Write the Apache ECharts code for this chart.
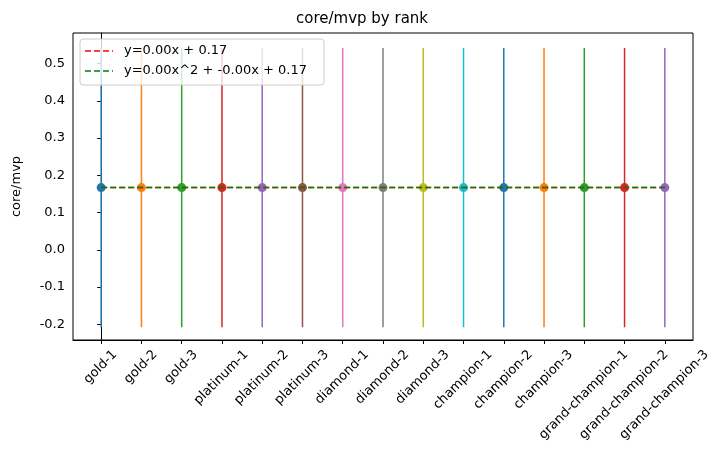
<!DOCTYPE html>
<html>
<head>
<meta charset="utf-8">
<script src="https://cdn.jsdelivr.net/npm/echarts@6/dist/echarts.min.js"></script>
</head>
<body style="margin:0">
<div id="chart" style="width:724px;height:460px"></div>
<script>
var ranks = ["gold-1", "gold-2", "gold-3", "platinum-1", "platinum-2", "platinum-3",
    "diamond-1", "diamond-2", "diamond-3", "champion-1", "champion-2", "champion-3",
    "grand-champion-1", "grand-champion-2", "grand-champion-3"];
var means = [0.167, 0.167, 0.167, 0.167, 0.167, 0.167, 0.167, 0.167, 0.167, 0.167, 0.167, 0.167, 0.167, 0.167, 0.167];
var errs = [0.375, 0.375, 0.375, 0.375, 0.375, 0.375, 0.375, 0.375, 0.375, 0.375, 0.375, 0.375, 0.375, 0.375, 0.375];
var yTicks = [-0.2, -0.1, 0.0, 0.1, 0.2, 0.3, 0.4, 0.5];
var linFit = [0.167, 0.167]; // at x=0 and x=14
var quadFit = [0.167, 0.167];
var fitNames = ['y=0.00x + 0.17', 'y=0.00x^2 + -0.00x + 0.17'];
var colors = ['#1f77b4', '#ff7f0e', '#2ca02c', '#d62728', '#9467bd', '#8c564b',
    '#e377c2', '#7f7f7f', '#bcbd22', '#17becf'];

var font = 'DejaVu Sans';
var fs = 13;
var grid = { left: 73, right: 31, top: 33, bottom: 120 };
var W = 724, H = 460;
var pts = ranks.map(function (r, i) { return [i, means[i], errs[i]]; });
var idx = ranks.map(function (r, i) { return i; });

var chart = echarts.init(document.getElementById('chart'));
var option = {
    animation: false,
    textStyle: { fontFamily: font },
    title: {
        text: 'core/mvp by rank', left: 'center', top: 7,
        textStyle: { fontFamily: font, fontSize: 15, fontWeight: 'normal', color: '#000' }
    },
    grid: grid,
    xAxis: {
        type: 'value', min: -0.7, max: 14.7,
        splitLine: { show: false },
        axisLine: { onZero: false, lineStyle: { color: '#000' } },
        axisTick: { show: true, customValues: idx, length: 4, lineStyle: { color: '#000' } },
        axisLabel: { show: false }
    },
    yAxis: {
        type: 'value', min: -0.2425, max: 0.5825,
        name: 'core/mvp', nameLocation: 'middle', nameGap: 50,
        nameTextStyle: { color: '#000', fontSize: fs, fontFamily: font },
        splitLine: { show: false },
        axisLine: { show: true, lineStyle: { color: '#000' } },
        axisTick: { show: true, customValues: yTicks, length: 4, lineStyle: { color: '#000' } },
        axisLabel: {
            customValues: yTicks, color: '#000', fontSize: fs, fontFamily: font,
            formatter: function (v) { return v.toFixed(1); }
        }
    },
    series: [
        {
            type: 'custom', data: pts, z: 2,
            renderItem: function (params, api) {
                var x = api.value(0), m = api.value(1), e = api.value(2);
                var top = api.coord([x, m + e]);
                var bot = api.coord([x, m - e]);
                var c = colors[params.dataIndex % colors.length];
                return {
                    type: 'group', children: [
                        { type: 'line', shape: { x1: top[0], y1: top[1], x2: bot[0], y2: bot[1] }, style: { stroke: c, lineWidth: 1.5 } },
                        { type: 'circle', shape: { cx: top[0], cy: api.coord([x, m])[1], r: 4.5 }, style: { fill: c } }
                    ]
                };
            }
        },
        {
            name: fitNames[0], type: 'line', symbol: 'none', z: 3,
            data: [[0, linFit[0]], [14, linFit[1]]],
            lineStyle: { color: '#ff0000', type: [6, 3], width: 1.5 }
        },
        {
            name: fitNames[1], type: 'line', symbol: 'none', z: 4,
            data: [[0, quadFit[0]], [14, quadFit[1]]],
            lineStyle: { color: '#008000', type: [6, 3], width: 1.5 }
        }
    ]
};
chart.setOption(option);

// frame, legend, and matplotlib-style rotated tick labels
var ctx = document.createElement('canvas').getContext('2d');
ctx.font = fs + 'px "' + font + '"';
var g = [{
    type: 'rect', z: 1, silent: true,
    shape: { x: grid.left, y: grid.top, width: W - grid.left - grid.right, height: H - grid.top - grid.bottom },
    style: { fill: 'none', stroke: '#000', lineWidth: 1 }
}];
var bottomY = H - grid.bottom;
idx.forEach(function (i) {
    var px = chart.convertToPixel({ xAxisIndex: 0 }, i);
    var L = ctx.measureText(ranks[i]).width;
    var h = fs * 1.15;
    g.push({
        type: 'text', x: px + 0.354 * (L - h), y: bottomY + 8, rotation: Math.PI / 4,
        style: { text: ranks[i], font: fs + 'px "' + font + '"', fill: '#000', align: 'right', verticalAlign: 'top' }
    });
});
var legendColors = ['#ff0000', '#008000'];
g.push({
    type: 'rect', z: 10, shape: { x: 80, y: 39, width: 244, height: 46, r: 3 },
    style: { fill: 'rgba(255,255,255,0.8)', stroke: '#ccc', lineWidth: 1 }
});
fitNames.forEach(function (n, k) {
    var yy = 51 + k * 20;
    g.push({ type: 'line', z: 11, shape: { x1: 85, y1: yy, x2: 113, y2: yy },
        style: { stroke: legendColors[k], lineWidth: 1.5, lineDash: [6, 3] } });
    g.push({ type: 'text', z: 11, x: 124, y: yy,
        style: { text: n, font: fs + 'px "' + font + '"', fill: '#000', verticalAlign: 'middle' } });
});
chart.setOption({ graphic: g });
</script>
</body>
</html>
